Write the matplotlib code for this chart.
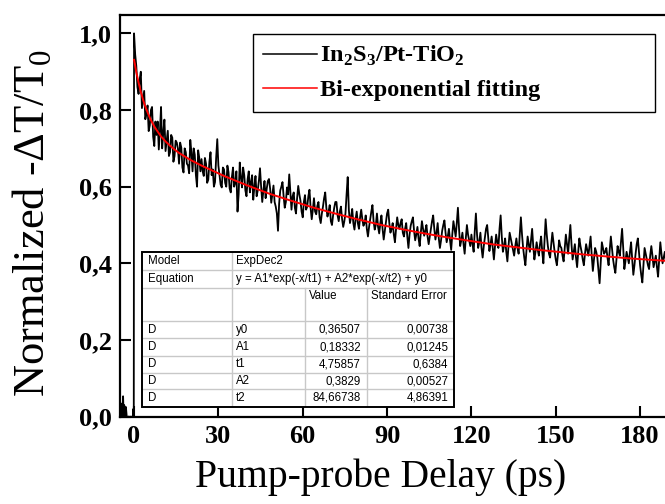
import numpy as np
import matplotlib
matplotlib.use("Agg")
import matplotlib.pyplot as plt
from matplotlib.lines import Line2D
from matplotlib.patches import Rectangle

plt.rcParams["font.family"] = ["Liberation Serif", "DejaVu Serif"]
plt.rcParams["mathtext.fontset"] = "custom"
plt.rcParams["mathtext.rm"] = "Liberation Serif"
plt.rcParams["mathtext.bf"] = "Liberation Serif:bold"

# --- data ---
# signal before time zero (baseline spikes)
pre_x = [-5.0, -4.8, -4.6, -4.4, -4.2, -3.9, -3.7, -3.5, -3.3, -3.1, -2.9,
         -2.6, -2.3, -2.0, -1.7, -1.4, -1.1, -0.8, -0.5, -0.25, -0.1]
pre_y = [0.0, 0.01, 0.034, 0.0, 0.005, 0.053, 0.0, 0.03, 0.012, 0.0, 0.025,
         0.0, -0.01, 0.0, -0.01, 0.0, -0.005, 0.0, -0.01, 0.02, 0.0]

# decay signal: samples at t = 0, 0.8, 1.6, ... ps
t_step = 0.8
decay_y_even = [
    1.000, 0.915, 0.842, 0.900, 0.828, 0.776, 0.812, 0.760, 0.808, 0.706,
    0.735, 0.697, 0.808, 0.742, 0.693, 0.746, 0.690, 0.728, 0.680, 0.715,
    0.660, 0.702, 0.637, 0.690, 0.655, 0.722, 0.640, 0.683, 0.600, 0.675,
    0.672, 0.628, 0.660, 0.618, 0.690, 0.645, 0.612, 0.724, 0.630, 0.598,
    0.645, 0.600, 0.638, 0.585, 0.650, 0.610, 0.535, 0.663, 0.598, 0.630,
    0.575, 0.640, 0.612, 0.566, 0.628, 0.590, 0.648, 0.560, 0.615, 0.595,
    0.620, 0.558, 0.603, 0.548, 0.485, 0.590, 0.612, 0.545, 0.598, 0.632,
    0.540, 0.585, 0.530, 0.602, 0.563, 0.520, 0.578, 0.548, 0.592, 0.515,
    0.570, 0.528, 0.560, 0.505, 0.548, 0.585, 0.522, 0.552, 0.500, 0.545,
    0.560, 0.510, 0.548, 0.495, 0.530, 0.625, 0.505, 0.542, 0.488, 0.535,
    0.490, 0.540, 0.498, 0.525, 0.470, 0.515, 0.552, 0.488, 0.530, 0.478,
    0.525, 0.462, 0.510, 0.540, 0.480, 0.505, 0.455, 0.520, 0.490, 0.515,
    0.470, 0.505, 0.440, 0.498, 0.520, 0.460, 0.495, 0.445, 0.510, 0.472,
    0.500, 0.450, 0.490, 0.525, 0.462, 0.505, 0.440, 0.485, 0.512, 0.455,
    0.490, 0.435, 0.510, 0.470, 0.545, 0.445, 0.480, 0.425, 0.500, 0.460,
    0.475, 0.430, 0.530, 0.440, 0.480, 0.415, 0.468, 0.500, 0.432, 0.470,
    0.410, 0.475, 0.440, 0.525, 0.430, 0.465, 0.405, 0.480, 0.450, 0.420,
    0.465, 0.425, 0.520, 0.440, 0.395, 0.470, 0.430, 0.490, 0.410, 0.455,
    0.420, 0.470, 0.400, 0.515, 0.445, 0.415, 0.480, 0.430, 0.395, 0.460,
    0.440, 0.405, 0.475, 0.425, 0.500, 0.410, 0.450, 0.390, 0.465, 0.430,
    0.395, 0.450, 0.420, 0.470, 0.380, 0.440, 0.415, 0.348, 0.455, 0.425,
    0.440, 0.395, 0.470, 0.410, 0.375, 0.445, 0.420, 0.490, 0.385, 0.430,
    0.400, 0.455, 0.370, 0.425, 0.465, 0.395, 0.350, 0.440, 0.410, 0.385,
    0.445, 0.390, 0.420, 0.365, 0.455, 0.400, 0.430, 0.380, 0.415,
]
# samples half-way between them: t = 0.4, 1.2, 2.0, ... ps
decay_y_odd = [
    0.945, 0.860, 0.880, 0.805, 0.850, 0.790, 0.745, 0.800, 0.730, 0.770,
    0.770, 0.745, 0.700, 0.775, 0.720, 0.680, 0.735, 0.665, 0.720, 0.700,
    0.715, 0.650, 0.700, 0.660, 0.635, 0.690, 0.700, 0.630, 0.695, 0.640,
    0.640, 0.675, 0.610, 0.665, 0.630, 0.600, 0.675, 0.655, 0.605, 0.650,
    0.610, 0.655, 0.595, 0.625, 0.600, 0.640, 0.580, 0.625, 0.650, 0.590,
    0.620, 0.585, 0.630, 0.600, 0.575, 0.615, 0.600, 0.590, 0.570, 0.615,
    0.595, 0.580, 0.560, 0.530, 0.555, 0.600, 0.575, 0.560, 0.580, 0.585,
    0.575, 0.545, 0.570, 0.580, 0.535, 0.560, 0.540, 0.575, 0.545, 0.540,
    0.535, 0.550, 0.520, 0.530, 0.570, 0.545, 0.535, 0.510, 0.525, 0.560,
    0.525, 0.535, 0.515, 0.510, 0.580, 0.540, 0.520, 0.505, 0.515, 0.505,
    0.520, 0.515, 0.505, 0.490, 0.495, 0.535, 0.510, 0.500, 0.495, 0.505,
    0.490, 0.485, 0.530, 0.505, 0.490, 0.475, 0.490, 0.500, 0.505, 0.480,
    0.490, 0.470, 0.475, 0.510, 0.485, 0.475, 0.465, 0.480, 0.490, 0.485,
    0.470, 0.470, 0.510, 0.490, 0.480, 0.465, 0.460, 0.500, 0.480, 0.470,
    0.460, 0.475, 0.490, 0.505, 0.490, 0.460, 0.450, 0.465, 0.475, 0.445,
    0.450, 0.485, 0.475, 0.455, 0.440, 0.445, 0.490, 0.465, 0.450, 0.440,
    0.445, 0.455, 0.490, 0.470, 0.445, 0.430, 0.445, 0.465, 0.435, 0.445,
    0.440, 0.475, 0.475, 0.415, 0.435, 0.450, 0.460, 0.445, 0.430, 0.435,
    0.450, 0.430, 0.460, 0.475, 0.425, 0.450, 0.455, 0.410, 0.425, 0.445,
    0.420, 0.440, 0.450, 0.465, 0.450, 0.430, 0.415, 0.430, 0.445, 0.410,
    0.425, 0.435, 0.445, 0.420, 0.410, 0.430, 0.380, 0.400, 0.440, 0.430,
    0.415, 0.435, 0.440, 0.390, 0.410, 0.430, 0.455, 0.440, 0.405, 0.415,
    0.430, 0.410, 0.395, 0.450, 0.430, 0.370, 0.395, 0.425, 0.395, 0.420,
    0.420, 0.405, 0.390, 0.410, 0.425, 0.415, 0.405, 0.395, 0.400,
]

# bi-exponential fit curve, read at these delays
fit_x = [0, 0.8, 1.6, 2.4, 3.2, 4, 4.8, 5.6, 6.4, 7.2, 8, 9.6, 11.2, 12.8,
         14.4, 16, 20, 24, 32, 40, 48, 56, 64, 72, 80, 88, 96, 104, 112, 120,
         128, 136, 144, 152, 160, 168, 176, 184, 192]
fit_y = [0.931, 0.899, 0.872, 0.848, 0.827, 0.809, 0.794, 0.780, 0.768,
         0.757, 0.748, 0.731, 0.718, 0.707, 0.697, 0.688, 0.670, 0.655, 0.628,
         0.604, 0.582, 0.563, 0.545, 0.529, 0.514, 0.500, 0.488, 0.477, 0.467,
         0.458, 0.449, 0.442, 0.435, 0.429, 0.423, 0.418, 0.413, 0.409, 0.405]

x_ticks = [0, 30, 60, 90, 120, 150, 180]
y_ticks = [0.0, 0.2, 0.4, 0.6, 0.8, 1.0]
y_tick_labels = ["0,0", "0,2", "0,4", "0,6", "0,8", "1,0"]

legend_labels = [r"In$_\mathbf{2}$S$_\mathbf{3}$/Pt-TiO$_\mathbf{2}$",
                 "Bi-exponential fitting"]

# fit report table
model_name = "ExpDec2"
equation = "y = A1*exp(-x/t1) + A2*exp(-x/t2) + y0"
row_labels = ["D", "D", "D", "D", "D"]
param_names = ["y0", "A1", "t1", "A2", "t2"]
param_values = ["0,36507", "0,18332", "4,75857", "0,3829", "84,66738"]
param_errors = ["0,00738", "0,01245", "0,6384", "0,00527", "4,86391"]

# --- figure ---
W, H = 665, 504
fig = plt.figure(figsize=(W / 100, H / 100), dpi=100)
ax = fig.add_axes([120 / W, 87.4 / H, 560 / W, 401.6 / H])

t_even = t_step * np.arange(len(decay_y_even))
t_odd = t_even + t_step / 2
order = np.argsort(np.concatenate([t_even, t_odd]), kind="stable")
t = np.concatenate([t_even, t_odd])[order]
y = np.concatenate([decay_y_even, decay_y_odd])[order]
x_all = np.concatenate([pre_x, t])
y_all = np.concatenate([pre_y, y])

ax.plot(x_all, y_all, color="black", lw=1.3, zorder=2)
ax.plot(fit_x, fit_y, color="red", lw=1.4, zorder=3)

ax.set_xlim(-5.0, 194.2)
ax.set_ylim(0.0, 1.048)
ax.set_xticks(x_ticks)
ax.set_yticks(y_ticks)
ax.set_yticklabels(y_tick_labels)
ax.tick_params(direction="in", length=8, width=1.5, labelsize=19, pad=6)
for lab in ax.get_xticklabels() + ax.get_yticklabels():
    lab.set_fontweight("bold")
for sp in ax.spines.values():
    sp.set_linewidth(1.6)

ax.set_xlabel("Pump-probe Delay (ps)", fontsize=28.5)
ax.xaxis.set_label_coords(0.466, -0.105)
ax.set_ylabel(r"Normalized -ΔT/T$_\mathrm{0}$", fontsize=32)
ax.yaxis.set_label_coords(-0.118, 0.483)

handles = [Line2D([], [], color="black", lw=1.1),
           Line2D([], [], color="red", lw=1.1)]
leg = ax.legend(handles, legend_labels, loc="upper left",
                bbox_to_anchor=(0.2375, 0.70, 0.718, 0.2527), mode="expand",
                borderaxespad=0, fancybox=False, framealpha=1, edgecolor="black",
                prop={"weight": "bold", "size": 17.5}, handlelength=2.2,
                handletextpad=0.12, borderpad=0.42, labelspacing=0.45)
leg.get_frame().set_linewidth(1.0)

# --- fit report table, drawn in its own pixel-unit axes ---
tx0, ty0, tx1, ty1 = 141.7, 251.7, 454.3, 406.7
tw, th = tx1 - tx0, ty1 - ty0
tab = fig.add_axes([tx0 / W, (H - ty1) / H, tw / W, th / H])
tab.set_xlim(0, tw)
tab.set_ylim(th, 0)
tab.axis("off")
tab.add_patch(Rectangle((0, 0), tw, th, facecolor="white", edgecolor="none", zorder=0))

cols = [0, 90, 163.3, 225, tw]
rows = [0, 18.3, 36, 69.3, 86.6, 104, 121, 137.6, th]
grid_c = "#c8c8c8"
for yr in rows[1:-1]:
    tab.plot([0, tw], [yr, yr], color=grid_c, lw=1.0, zorder=1)
tab.plot([cols[1], cols[1]], [0, th], color=grid_c, lw=1.0, zorder=1)
for xc in cols[2:4]:
    tab.plot([xc, xc], [rows[2], th], color=grid_c, lw=1.0, zorder=1)
tab.add_patch(Rectangle((0, 0), tw, th, facecolor="none", edgecolor="black",
                        lw=1.4, zorder=3, clip_on=False))

tkw = dict(fontsize=8.3, family="Liberation Sans", va="center", zorder=4)
tab.text(6, (rows[0] + rows[1]) / 2, "Model", **tkw)
tab.text(cols[1] + 4, (rows[0] + rows[1]) / 2, model_name, **tkw)
tab.text(6, (rows[1] + rows[2]) / 2, "Equation", **tkw)
tab.text(cols[1] + 4, (rows[1] + rows[2]) / 2, equation, **tkw)
tab.text(cols[2] + 4, rows[2] + 8, "Value", **tkw)
tab.text(cols[3] + 4, rows[2] + 8, "Standard Error", **tkw)
for i in range(len(param_names)):
    yc = (rows[3 + i] + rows[4 + i]) / 2
    tab.text(6, yc, row_labels[i], **tkw)
    tab.text(cols[1] + 4, yc, param_names[i], **tkw)
    tab.text(cols[3] - 6, yc, param_values[i], ha="right", **tkw)
    tab.text(cols[4] - 6, yc, param_errors[i], ha="right", **tkw)

fig.savefig("out.png", dpi=100)
